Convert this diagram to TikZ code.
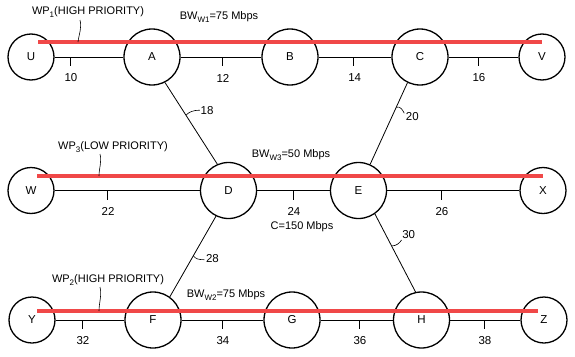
\documentclass[tikz,border=0pt]{standalone}
\usepackage{fontspec}
\setmainfont{Liberation Sans}
\usetikzlibrary{calc}
\definecolor{wpred}{RGB}{240,72,72}
\newcommand\mysub[1]{\raisebox{-0.45ex}{\fontsize{8}{8}\selectfont #1}}
\newcommand\linktick[4]{%
  \draw[tick] ($(#1)!#3!(#2)$) coordinate (t#4) -- ++(0,9);
  \node[lbl] (n#4) at ($(t#4)+(1,21)$) {#4};}
\begin{document}
\begin{tikzpicture}[x=1pt,y=-1pt,
  bignode/.style={circle,draw,line width=1.3pt,minimum size=56pt,inner sep=0pt,font=\fontsize{11.5}{11.5}\selectfont},
  smallnode/.style={circle,draw,line width=1.3pt,minimum size=46pt,inner sep=0pt,font=\fontsize{11.5}{11.5}\selectfont},
  link/.style={line width=0.8pt},
  tick/.style={line width=0.6pt},
  lead/.style={line width=0.6pt},
  lbl/.style={font=\fontsize{11.5}{11.5}\selectfont,inner sep=0.5pt},
  wp/.style={font=\fontsize{11}{11}\selectfont,inner sep=0pt},
  redpath/.style={line width=3.6pt,draw=wpred}]
\useasboundingbox (0,0) rectangle (575,356);

% nodes
\node[smallnode] (U) at (31,57) {U};
\node[bignode]   (A) at (152,57) {A};
\node[bignode]   (B) at (290,57) {B};
\node[bignode]   (C) at (420,57) {C};
\node[smallnode] (V) at (542,57) {V};

\node[smallnode] (W) at (31,190.5) {W};
\node[bignode]   (D) at (228.5,190.5) {D};
\node[bignode]   (E) at (358.5,190.5) {E};
\node[smallnode] (X) at (543,190.5) {X};

\node[smallnode] (Y) at (32,320) {Y};
\node[bignode]   (F) at (153,320) {F};
\node[bignode]   (G) at (292,320) {G};
\node[bignode]   (H) at (421.5,320) {H};
\node[smallnode] (Z) at (544,320) {Z};

% horizontal links
\draw[link] (U) -- (A);
\draw[link] (A) -- (B);
\draw[link] (B) -- (C);
\draw[link] (C) -- (V);
\draw[link] (W) -- (D);
\draw[link] (D) -- (E);
\draw[link] (E) -- (X);
\draw[link] (Y) -- (F);
\draw[link] (F) -- (G);
\draw[link] (G) -- (H);
\draw[link] (H) -- (Z);

\linktick{U}{A}{0.322}{10}
\linktick{A}{B}{0.507}{12}
\linktick{B}{C}{0.49}{14}
\linktick{C}{V}{0.475}{16}
\linktick{W}{D}{0.385}{22}
\linktick{D}{E}{0.496}{24}
\linktick{E}{X}{0.447}{26}
\linktick{Y}{F}{0.413}{32}
\linktick{F}{G}{0.496}{34}
\linktick{G}{H}{0.517}{36}
\linktick{H}{Z}{0.51}{38}

% diagonal links
\draw[link] (A.-63) -- (D.113) coordinate[pos=0.4] (l18);
\draw[link] (C.-116) -- (E.66) coordinate[pos=0.3] (l20);
\draw[link] (D.-116) -- (F.54) coordinate[pos=0.49] (l28);
\draw[link] (E.-55) -- (H.102) coordinate[pos=0.41] (l30);

\draw[lead] (l18) .. controls ($(l18)+(3,-3)$) and ($(l18)+(7,-5)$) .. ($(l18)+(14,-5)$) coordinate (e18);
\node[lbl,anchor=west] (n18) at (e18) {18};
\draw[lead] (l20) .. controls ($(l20)+(4,-1)$) and ($(l20)+(6,2)$) .. ($(l20)+(8,6)$) coordinate (e20);
\node[lbl,anchor=west] (n20) at ($(e20)+(1,3)$) {20};
\draw[lead] (l28) .. controls ($(l28)+(2,3)$) and ($(l28)+(5,4)$) .. ($(l28)+(11,4)$) coordinate (e28);
\node[lbl,anchor=west] (n28) at ($(e28)+(1,-1)$) {28};
\draw[lead] (l30) .. controls ($(l30)+(5,0)$) and ($(l30)+(8,-3)$) .. ($(l30)+(10,-6)$) coordinate (e30);
\node[lbl,anchor=west] (n30) at ($(e30)+(0,-5)$) {30};

% working paths (red)
\coordinate (r1s) at (38,42);  \coordinate (r1e) at (542,42);
\coordinate (r3s) at (37,176); \coordinate (r3e) at (543,176);
\coordinate (r2s) at (37,311); \coordinate (r2e) at (538,311);
\draw[redpath] (r1s) -- (r1e);
\draw[redpath] (r3s) -- (r3e);
\draw[redpath] (r2s) -- (r2e);

% texts
\node[wp] (wp1) at (88,12) {WP\mysub{1}(HIGH PRIORITY)};
\node[wp] (bw1) at (219,17) {BW\mysub{W1}=75 Mbps};
\node[wp] (wp3) at (113,147) {WP\mysub{3}(LOW PRIORITY)};
\node[wp] (bw3) at (291,155) {BW\mysub{W3}=50 Mbps};
\node[wp] (cap) at (302,227) {C=150 Mbps};
\node[wp] (wp2) at (108,280) {WP\mysub{2}(HIGH PRIORITY)};
\node[wp] (bw2) at (226,295) {BW\mysub{W2}=75 Mbps};

% leaders of the WP texts
\draw[lead] (80,20) .. controls (82,28) and (79,34) .. (78,42);
\draw[lead] (100,154) .. controls (102,162) and (99,168) .. (99,176);
\draw[lead] (100,287) .. controls (102,295) and (99,303) .. (99,311);
\end{tikzpicture}
\end{document}
